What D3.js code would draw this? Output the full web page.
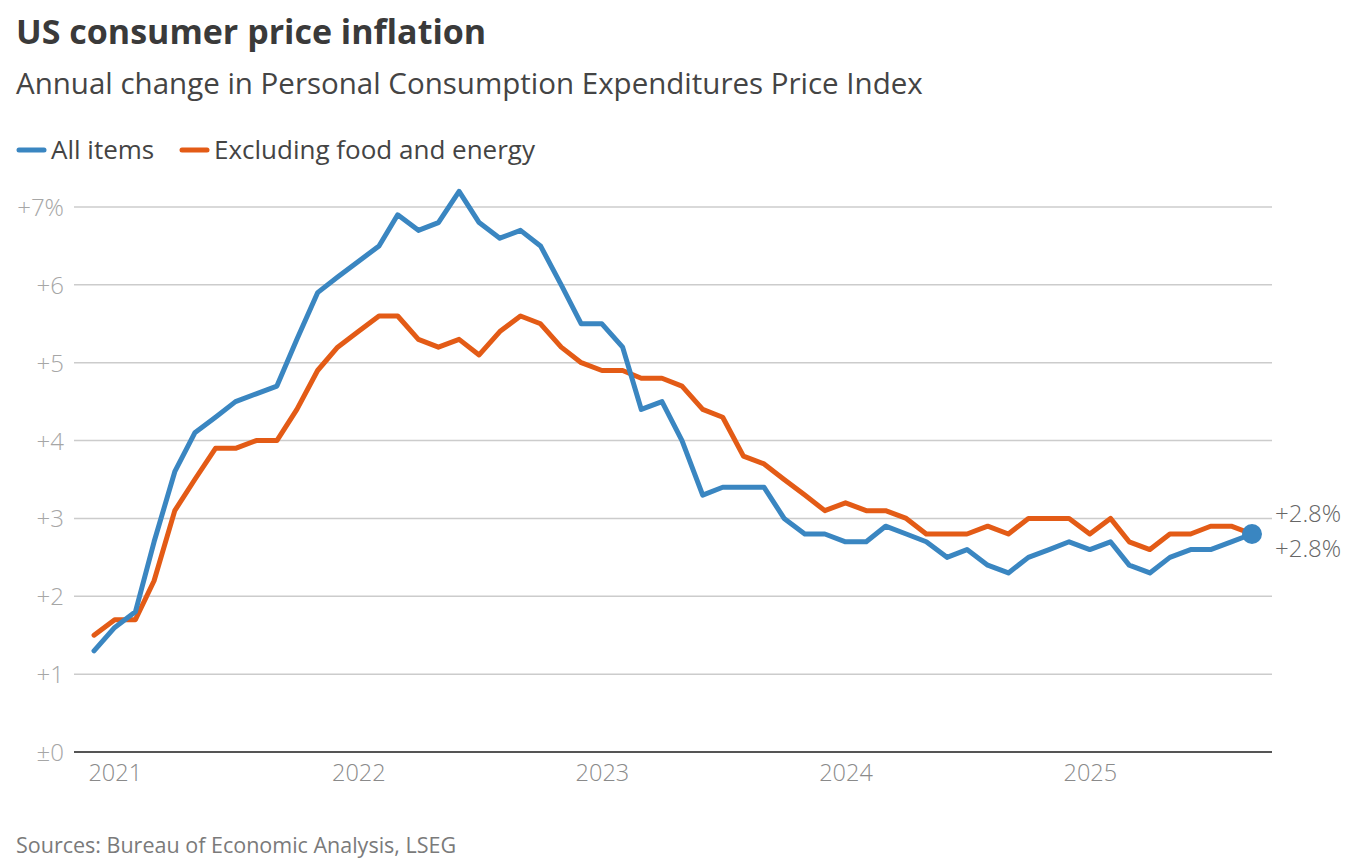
<!DOCTYPE html>
<html lang="en">
<head>
<meta charset="UTF-8">
<title>US consumer price inflation</title>
<script src="https://cdn.jsdelivr.net/npm/d3@7"></script>
<style>
    body { margin: 0; background: #fff; font-family: "Open Sans", Lato, sans-serif; }
    svg text { font-family: "Open Sans", Lato, sans-serif; }
</style>
</head>
<body>
<div id="chart"></div>
<script>
    // Monthly data, Dec 2020 - Sep 2025 (year-over-year % change)
    const startMonth = new Date(2020, 11, 1);
    const allItems = [
        1.3, 1.6, 1.8, 2.7, 3.6, 4.1, 4.3, 4.5, 4.6, 4.7, 5.3, 5.9,
        6.1, 6.3, 6.5, 6.9, 6.7, 6.8, 7.2, 6.8, 6.6, 6.7, 6.5, 6.0,
        5.5, 5.5, 5.2, 4.4, 4.5, 4.0, 3.3, 3.4, 3.4, 3.4, 3.0, 2.8,
        2.8, 2.7, 2.7, 2.9, 2.8, 2.7, 2.5, 2.6, 2.4, 2.3, 2.5, 2.6,
        2.7, 2.6, 2.7, 2.4, 2.3, 2.5, 2.6, 2.6, 2.7, 2.8
    ];
    const core = [
        1.5, 1.7, 1.7, 2.2, 3.1, 3.5, 3.9, 3.9, 4.0, 4.0, 4.4, 4.9,
        5.2, 5.4, 5.6, 5.6, 5.3, 5.2, 5.3, 5.1, 5.4, 5.6, 5.5, 5.2,
        5.0, 4.9, 4.9, 4.8, 4.8, 4.7, 4.4, 4.3, 3.8, 3.7, 3.5, 3.3,
        3.1, 3.2, 3.1, 3.1, 3.0, 2.8, 2.8, 2.8, 2.9, 2.8, 3.0, 3.0,
        3.0, 2.8, 3.0, 2.7, 2.6, 2.8, 2.8, 2.9, 2.9, 2.8
    ];
    const yTicks = [0, 1, 2, 3, 4, 5, 6, 7];
    const yearTicks = [2021, 2022, 2023, 2024, 2025];

    const seriesList = [
        { name: "Excluding food and energy", values: core, color: "#e35b16" },
        { name: "All items", values: allItems, color: "#3a86c1" }
    ];

    const width = 1353, height = 863;
    const plot = { left: 74, right: 1272, top: 207, bottom: 752 };

    const svg = d3.select("#chart")
        .append("svg")
        .attr("width", width)
        .attr("height", height);

    const monthDate = i => d3.timeMonth.offset(startMonth, i);

    const x = d3.scaleTime()
        .domain([d3.timeMonth.offset(startMonth, -1), d3.timeMonth.offset(startMonth, allItems.length)])
        .range([plot.left, plot.right]);

    const y = d3.scaleLinear()
        .domain([0, 7])
        .range([plot.bottom, plot.top]);

    // Title block
    svg.append("text")
        .attr("x", 16).attr("y", 44)
        .attr("font-size", 34).attr("font-weight", 700)
        .attr("fill", "#3a3a3a")
        .text("US consumer price inflation");

    svg.append("text")
        .attr("x", 16).attr("y", 94)
        .attr("font-size", 29.5)
        .attr("fill", "#444")
        .text("Annual change in Personal Consumption Expenditures Price Index");

    // Legend
    const legendItems = [
        { name: "All items", color: "#3a86c1", x: 17 },
        { name: "Excluding food and energy", color: "#e35b16", x: 180 }
    ];
    const legend = svg.selectAll(".legend")
        .data(legendItems)
        .enter().append("g")
        .attr("class", "legend")
        .attr("transform", d => `translate(${d.x},150)`);

    legend.append("line")
        .attr("x1", 2).attr("x2", 27)
        .attr("stroke", d => d.color)
        .attr("stroke-width", 5)
        .attr("stroke-linecap", "round");

    legend.append("text")
        .attr("x", 34).attr("y", 9)
        .attr("font-size", 26)
        .attr("fill", "#444")
        .text(d => d.name);

    // Gridlines and y labels
    svg.append("g")
        .selectAll("line")
        .data(yTicks.filter(d => d > 0))
        .enter().append("line")
        .attr("x1", plot.left).attr("x2", plot.right)
        .attr("y1", d => y(d)).attr("y2", d => y(d))
        .attr("stroke", "#cccccc")
        .attr("stroke-width", 1.5);

    svg.append("g")
        .selectAll("text")
        .data(yTicks)
        .enter().append("text")
        .attr("x", 64)
        .attr("y", d => y(d) + 9)
        .attr("text-anchor", "end")
        .attr("font-size", 24)
        .attr("font-weight", 300)
        .attr("fill", "#a6a6a6")
        .text(d => d === 0 ? "\u00B10" : d === 7 ? "+7%" : "+" + d);

    // X axis (labels only, no ticks)
    const xAxis = svg.append("g")
        .attr("transform", `translate(0,${plot.bottom})`)
        .call(d3.axisBottom(x)
            .tickValues(yearTicks.map(yr => new Date(yr, 0, 1)))
            .tickFormat(d3.timeFormat("%Y"))
            .tickSize(0)
            .tickPadding(12));
    xAxis.select(".domain").remove();
    xAxis.selectAll("text")
        .attr("font-size", 23.5)
        .attr("font-weight", 300)
        .attr("fill", "#8a8a8a")
        .attr("font-family", "'Open Sans', Lato, sans-serif");

    // Series lines
    const line = d3.line()
        .x((d, i) => x(monthDate(i)))
        .y(d => y(d));

    svg.selectAll(".series")
        .data(seriesList)
        .enter().append("path")
        .attr("class", "series")
        .attr("d", d => line(d.values))
        .attr("fill", "none")
        .attr("stroke", d => d.color)
        .attr("stroke-width", 5)
        .attr("stroke-linejoin", "round")
        .attr("stroke-linecap", "round");

    // Baseline
    svg.append("line")
        .attr("x1", plot.left).attr("x2", plot.right)
        .attr("y1", y(0)).attr("y2", y(0))
        .attr("stroke", "#555")
        .attr("stroke-width", 2);

    // End marker and labels
    const last = allItems.length - 1;
    svg.append("circle")
        .attr("cx", x(monthDate(last)))
        .attr("cy", y(allItems[last]))
        .attr("r", 10)
        .attr("fill", "#3a86c1");

    svg.append("text")
        .attr("x", 1275).attr("y", y(core[last]) - 12)
        .attr("font-size", 24).attr("font-weight", 300)
        .attr("fill", "#666")
        .text("+" + core[last].toFixed(1) + "%");

    svg.append("text")
        .attr("x", 1275).attr("y", y(allItems[last]) + 23)
        .attr("font-size", 24).attr("font-weight", 300)
        .attr("fill", "#666")
        .text("+" + allItems[last].toFixed(1) + "%");

    // Source
    svg.append("text")
        .attr("x", 16).attr("y", 853)
        .attr("font-size", 21.5)
        .attr("fill", "#7a7a7a")
        .text("Sources: Bureau of Economic Analysis, LSEG");
</script>
</body>
</html>
